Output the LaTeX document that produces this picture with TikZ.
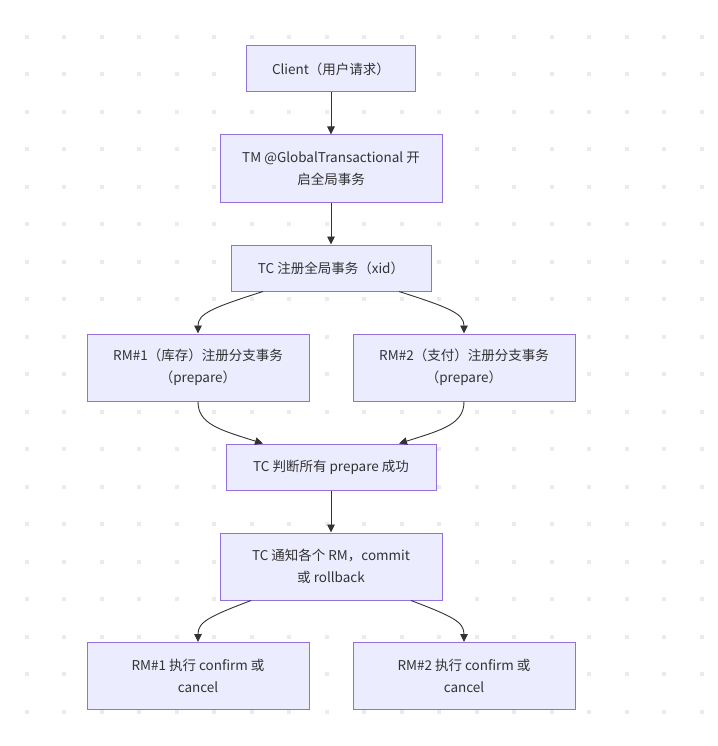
\documentclass[tikz,border=0pt]{standalone}
\usepackage{fontspec}
\setmainfont{Noto Sans CJK SC}
\usetikzlibrary{positioning,arrows.meta}
\definecolor{boxfill}{HTML}{ECECFF}
\definecolor{boxline}{HTML}{9370DB}
\definecolor{edgeline}{HTML}{333333}
\definecolor{griddot}{HTML}{EBEBEB}

\tikzset{
  stage/.style={draw=boxline, fill=boxfill, line width=1pt, text=edgeline,
    align=center, minimum height=46pt, minimum width=222pt, inner sep=0pt,
    font=\fontsize{13.5}{22}\selectfont},
  tall/.style={minimum height=67pt},
  flow/.style={-{Triangle[length=8pt,width=7.5pt]}, draw=edgeline, line width=0.9pt}
}

\begin{document}
\begin{tikzpicture}[node distance=99.5pt and 133pt,on grid]
  \useasboundingbox (0,0) rectangle (717pt,-746pt);
  % dotted background
  \foreach \i in {0,...,18}
    \foreach \j in {0,...,18}
      \fill[griddot] (24.7pt+\i*37.5pt,-34.7pt-\j*37.5pt) rectangle ++(4pt,-4pt);

  \node[stage, minimum width=169pt] (client) at (331pt,-69pt) {Client（用户请求）};
  \node[stage, tall] (tm) [below=of client] {TM @GlobalTransactional 开\\启全局事务};
  \node[stage, minimum width=200pt] (reg) [below=of tm] {TC 注册全局事务（xid）};
  \node[stage, tall] (rm_1) [below left=of reg] {RM\#1（库存）注册分支事务\\（prepare）};
  \node[stage, tall] (rm_2) [below right=of reg] {RM\#2（支付）注册分支事务\\（prepare）};
  \node[stage, minimum width=210pt] (check) [below right=of rm_1] {TC 判断所有 prepare 成功};
  \node[stage, tall] (notify) [below=of check] {TC 通知各个 RM，commit\\或 rollback};
  \node[stage, tall] (exec_1) [below left=109.5pt and 133pt of notify] {RM\#1 执行 confirm 或\\cancel};
  \node[stage, tall] (exec_2) [below right=109.5pt and 133pt of notify] {RM\#2 执行 confirm 或\\cancel};

  % edges
  \draw[flow] (client) -- (tm);
  \draw[flow] (tm) -- (reg);
  \draw[flow] ([xshift=-68pt]reg.south) .. controls +(-50pt,-16pt) and +(0,20pt) .. (rm_1.north);
  \draw[flow] ([xshift=68pt]reg.south) .. controls +(50pt,-16pt) and +(0,20pt) .. (rm_2.north);
  \draw[flow] (rm_1.south) .. controls +(0,-22pt) and +(-45pt,14pt) .. ([xshift=-68pt]check.north);
  \draw[flow] (rm_2.south) .. controls +(0,-22pt) and +(45pt,14pt) .. ([xshift=68pt]check.north);
  \draw[flow] (check) -- (notify);
  \draw[flow] ([xshift=-80pt]notify.south) .. controls +(-42pt,-16pt) and +(0,20pt) .. (exec_1.north);
  \draw[flow] ([xshift=80pt]notify.south) .. controls +(42pt,-16pt) and +(0,20pt) .. (exec_2.north);
\end{tikzpicture}
\end{document}
